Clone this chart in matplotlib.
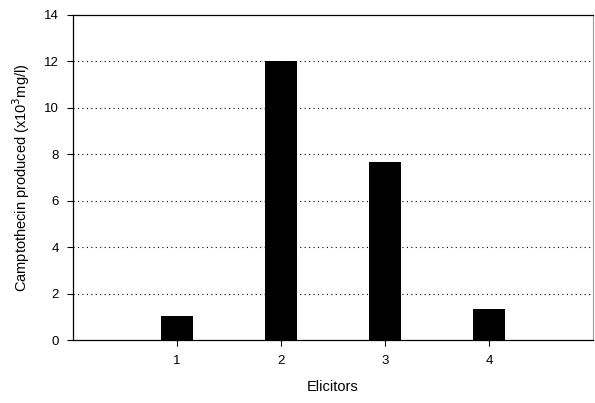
import matplotlib
matplotlib.use("Agg")
import matplotlib.pyplot as plt

elicitors = [1, 2, 3, 4]
camptothecin = [1.05, 12.0, 7.65, 1.35]
yticks = [0, 2, 4, 6, 8, 10, 12, 14]

plt.rcParams['font.family'] = ['Liberation Sans', 'DejaVu Sans']

fig = plt.figure(figsize=(5.95, 4.03), dpi=100)
ax = fig.add_axes([0.1227, 0.156, 0.874, 0.807])

ax.bar(elicitors, camptothecin, width=0.3, color='black', zorder=3)

ax.set_xlim(0, 5)
ax.set_ylim(0, 14)
ax.set_xticks(elicitors)
ax.set_yticks(yticks)
for y in yticks[1:-1]:
    ax.axhline(y, color='black', linestyle=(0, (1, 3)), linewidth=0.8, zorder=1)

ax.tick_params(axis='both', direction='out', length=4, width=0.8, labelsize=9.5, pad=6)
ax.tick_params(axis='x', pad=7)
for side in ['left', 'bottom', 'top']:
    ax.spines[side].set_linewidth(0.9)
ax.spines['right'].set_color('#999999')
ax.spines['right'].set_linewidth(0.8)

ax.set_xlabel('Elicitors', fontsize=10.5, labelpad=9)
ax.set_ylabel('Camptothecin produced (x10$^3$mg/l)', fontsize=10.5, labelpad=9)

fig.savefig('out.png', dpi=100)
